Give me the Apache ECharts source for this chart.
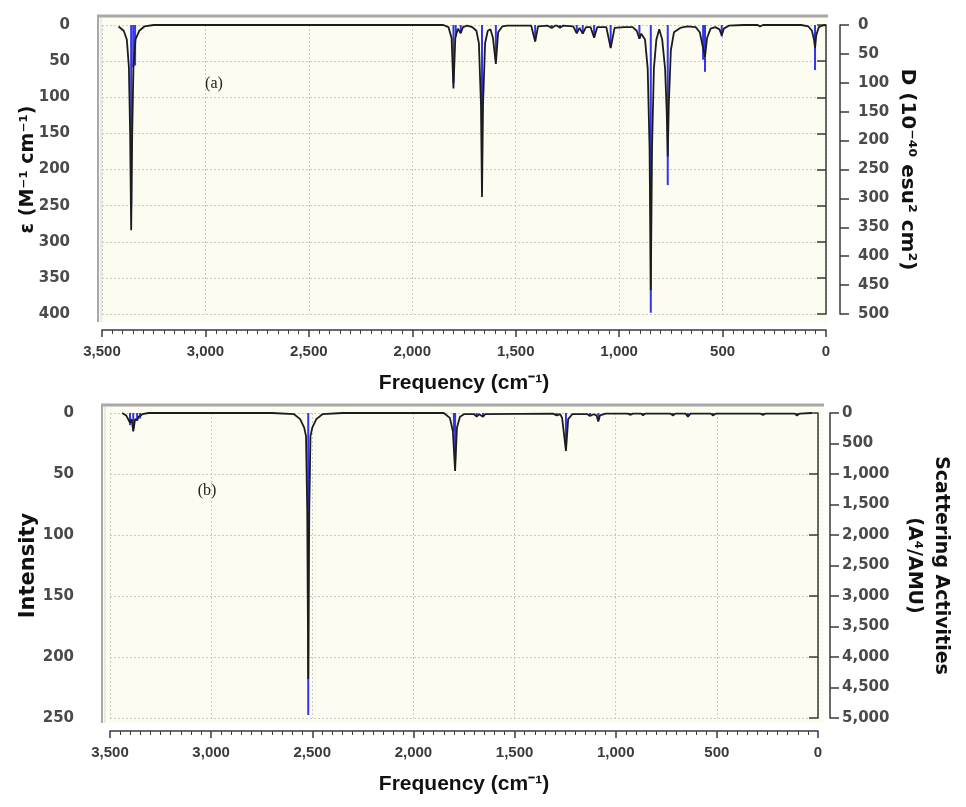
<!DOCTYPE html>
<html>
<head>
<meta charset="utf-8">
<script src="https://cdn.jsdelivr.net/npm/echarts@6/dist/echarts.min.js"></script>
<style>
html,body{margin:0;padding:0;background:#fff;}
#c{width:966px;height:807px;}
</style>
</head>
<body>
<div id="c"></div>
<script>
// ---------- DATA ----------
// Panel (a): IR spectrum. Curve: [frequency cm-1, epsilon]; sticks: [frequency, D]
var curveA = [
  [3420,2],[3395,8],[3380,20],[3370,58],[3364,150],[3359,284],[3354,150],[3348,58],[3338,20],[3320,8],[3295,2],[3250,0],
  [1850,0],[1825,3],[1810,18],[1801,88],[1792,18],[1780,5],[1766,11.5],[1755,3],[1735,1],
  [1710,3],[1690,8],[1678,25],[1668,110],[1663,238],[1658,110],[1648,25],[1635,8],[1622,6],[1610,18],[1596,54],[1585,10],[1565,2],[1540,1],
  [1425,1],[1406,23],[1392,2],[1345,1],[1326,4],[1310,1],[1300,1],[1286,4],[1272,1],
  [1222,2],[1205,11.5],[1192,4],[1176,12],[1160,3],[1138,3],[1121,17.5],[1106,3],
  [1062,3],[1041,32],[1022,4],[975,3],
  [935,3],[915,8],[902,19],[893,12],[875,20],[862,60],[853,170],[847,367],[841,170],[832,60],[820,20],[806,6],
  [792,20],[778,60],[770,120],[765,182],[760,110],[750,35],[735,10],[705,4],[670,2],
  [630,3],[610,10],[597,28],[585,44],[575,18],[558,5],[535,3],[515,6],[504,14],[494,5],[470,1],[400,0],
  [330,0],[319,2],[305,0],[120,0],[85,2],[68,8],[58,20],[53,32],[47,14],[35,3],[20,1],[0,0]
];
var sticksA = [
  [3359,315],[3349,73],[3340,70],
  [1801,100],[1790,20],[1766,14],[1663,290],[1596,60],[1406,28],
  [1326,5],[1286,5],[1205,14],[1176,15],[1121,21],[1041,38],[902,24],
  [847,498],[765,277],[594,60],[585,81],[504,20],[319,3],[53,78]
];
// Panel (b): Raman spectrum. Curve: [frequency, intensity]; sticks: [frequency, scattering activity]
var curveB = [
  [3440,0],[3420,2],[3401,8],[3393,5],[3385,15],[3376,5],[3366,6],[3358,3],[3351,4],[3340,1],[3310,0],
  [2700,0],[2590,1],[2560,5],[2540,12],[2531,19],[2525,80],[2520,218],[2515,80],[2509,19],[2500,12],[2480,5],[2450,1],[2350,0],
  [1850,0],[1820,4],[1805,15],[1794,47.6],[1785,12],[1770,3],[1750,1],[1700,1],[1687,3],[1675,1],[1656,3],[1645,1],
  [1310,0.5],[1292,2],[1275,1],[1265,4],[1246,31],[1235,5],[1215,1],[1140,1],[1127,2.5],[1110,1],[1095,2],[1086,7],[1078,2],[1050,0.5],
  [940,0.5],[929,1.5],[915,0.5],[875,0.5],[865,2],[855,0.5],[730,0.5],[717,2],[705,0.5],[655,0.5],[643,3],[630,0.5],
  [530,0.5],[519,2],[505,0.5],[285,0.5],[272,1.5],[260,0.5],[115,0.5],[104,2],[90,0.5],[30,0]
];
var sticksB = [
  [3401,200],[3385,260],[3366,120],[3351,90],[2520,4950],[1800,300],[1794,780],
  [1687,50],[1656,50],[1292,35],[1246,500],[1127,40],[1086,110],
  [929,25],[865,30],[717,30],[643,50],[519,30],[272,25],[104,30]
];
// Axis ranges / tick steps
var freqRange = [0, 3500], freqStep = 500;
var epsRange = [0, 400], epsStep = 50;
var dRange = [0, 500], dStep = 50;
var intRange = [0, 250], intStep = 50;
var scatRange = [0, 5000], scatStep = 500;
var panelLabels = ['(a)', '(b)'];
var xName = 'Frequency (cm\u207B\u00B9)';
var yNames = ['\u03B5 (M\u207B\u00B9 cm\u207B\u00B9)', 'D (10\u207B\u2074\u2070 esu\u00B2 cm\u00B2)', 'Intensity', 'Scattering Activities\n(A\u2074/AMU)'];

// ---------- STYLE ----------
var narrow = "'Liberation Sans','Arial',sans-serif";
var sans = "'DejaVu Sans','Liberation Sans',sans-serif";
var fmt = function (v) { return v.toLocaleString('en-US'); };
var axisLineStyle = {color: '#3a3a3a', width: 1.5};
var labelStyle = {color: '#4a4a4a', fontFamily: sans, fontWeight: 'bold', fontSize: 15};
var splitStyle = {show: true, lineStyle: {color: '#c9c9c9', type: [2, 2], width: 1}};

function xAxisCfg(grid, offset) {
  return {
    gridIndex: grid, type: 'value', min: freqRange[0], max: freqRange[1], interval: freqStep,
    inverse: true, position: 'bottom', offset: offset,
    axisLine: {show: true, onZero: false, lineStyle: axisLineStyle},
    axisTick: {show: true, length: 7, lineStyle: axisLineStyle},
    minorTick: {show: true, splitNumber: 10, length: 4, lineStyle: {color: '#3a3a3a', width: 1}},
    axisLabel: {formatter: fmt, margin: 14, color: '#3a3a3a', fontFamily: narrow, fontWeight: 'bold', fontSize: 15},
    splitLine: splitStyle,
    name: xName, nameLocation: 'middle', nameGap: 43,
    nameTextStyle: {color: '#111', fontFamily: narrow, fontWeight: 'bold', fontSize: 21}
  };
}
function yAxisCfg(grid, pos, range, step, offset, margin, name, nameGap, nameRotate, split, nameSize, moveOverlap) {
  return {
    gridIndex: grid, type: 'value', min: range[0], max: range[1], interval: step,
    inverse: true, position: pos, offset: offset,
    axisLine: {show: true, lineStyle: axisLineStyle},
    axisTick: {show: true, length: 9, lineStyle: axisLineStyle},
    axisLabel: Object.assign({formatter: fmt, margin: margin}, labelStyle),
    splitLine: split ? splitStyle : {show: false},
    name: name, nameLocation: 'middle', nameGap: nameGap, nameRotate: nameRotate,
    nameMoveOverlap: moveOverlap,
    nameTextStyle: {color: '#111', fontFamily: sans, fontWeight: 'bold', fontSize: nameSize, lineHeight: 27}
  };
}

var chart = echarts.init(document.getElementById('c'), null, {renderer: 'canvas'});
chart.setOption({
  animation: false,
  backgroundColor: '#ffffff',
  graphic: [
    {type: 'rect', z: -10, shape: {x: 98, y: 16, width: 730, height: 306}, style: {fill: '#fcfcf1'}},
    {type: 'line', z: -9, shape: {x1: 97, y1: 16, x2: 828, y2: 16}, style: {stroke: '#a8a8a8', lineWidth: 3}},
    {type: 'line', z: -9, shape: {x1: 98, y1: 16, x2: 98, y2: 322}, style: {stroke: '#a8a8a8', lineWidth: 2}},
    {type: 'line', z: -9, shape: {x1: 101, y1: 18, x2: 101, y2: 322}, style: {stroke: '#d8d8d8', lineWidth: 1}},
    {type: 'rect', z: -10, shape: {x: 102, y: 405, width: 722, height: 318}, style: {fill: '#fcfcf1'}},
    {type: 'line', z: -9, shape: {x1: 101, y1: 405, x2: 824, y2: 405}, style: {stroke: '#a8a8a8', lineWidth: 3}},
    {type: 'line', z: -9, shape: {x1: 102, y1: 405, x2: 102, y2: 723}, style: {stroke: '#a8a8a8', lineWidth: 2}},
    {type: 'line', z: -9, shape: {x1: 105, y1: 407, x2: 105, y2: 723}, style: {stroke: '#d8d8d8', lineWidth: 1}},
    {type: 'text', x: 214, y: 84, style: {text: panelLabels[0], fill: '#222', font: "16px 'Liberation Serif', serif", textAlign: 'center', textVerticalAlign: 'middle'}},
    {type: 'text', x: 207, y: 491, style: {text: panelLabels[1], fill: '#222', font: "16px 'Liberation Serif', serif", textAlign: 'center', textVerticalAlign: 'middle'}}
  ],
  grid: [
    {left: 102, width: 724, top: 25, height: 289, containLabel: false},
    {left: 110, width: 708, top: 413, height: 305, containLabel: false}
  ],
  xAxis: [xAxisCfg(0, 16), xAxisCfg(1, 13)],
  yAxis: [
    yAxisCfg(0, 'left', epsRange, epsStep, 12, 20, yNames[0], 48, 90, true, 19, false),
    yAxisCfg(0, 'right', dRange, dStep, 14, 18, yNames[1], 54, -90, false, 20, false),
    yAxisCfg(1, 'left', intRange, intStep, 15, 21, yNames[2], 53, 90, true, 21, false),
    yAxisCfg(1, 'right', scatRange, scatStep, 12, 12, yNames[3], 70, -90, false, 19, true)
  ],
  series: [
    {type: 'bar', xAxisIndex: 0, yAxisIndex: 1, data: sticksA, barWidth: 2, itemStyle: {color: '#3434ee'}, z: 2, clip: false},
    {type: 'line', xAxisIndex: 0, yAxisIndex: 0, data: curveA, showSymbol: false, symbol: 'none', clip: false,
      lineStyle: {color: '#1c1c1c', width: 1.8}, z: 3},
    {type: 'bar', xAxisIndex: 1, yAxisIndex: 3, data: sticksB, barWidth: 2, itemStyle: {color: '#3434ee'}, z: 2, clip: false},
    {type: 'line', xAxisIndex: 1, yAxisIndex: 2, data: curveB, showSymbol: false, symbol: 'none', clip: false,
      lineStyle: {color: '#1c1c1c', width: 1.8}, z: 3}
  ]
});
</script>
</body>
</html>
